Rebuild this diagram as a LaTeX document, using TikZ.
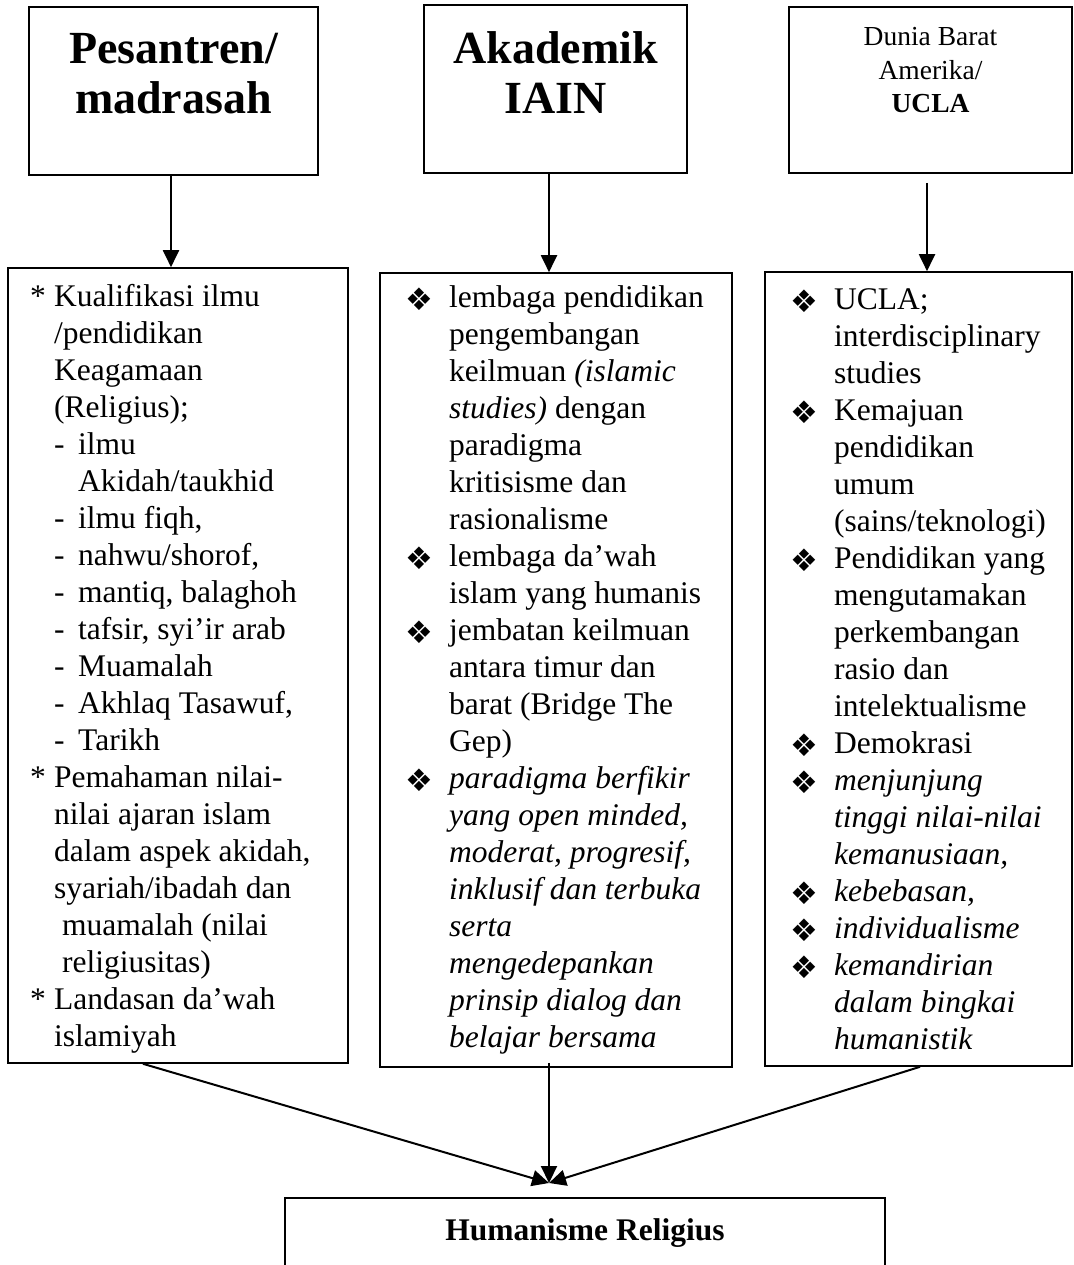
\documentclass[tikz,border=0pt]{standalone}
\usepackage{fontspec}
\setmainfont{Liberation Serif}
\newfontfamily\symfont{DejaVu Sans}
\usetikzlibrary{arrows.meta}

% bullets and indents
\newcommand{\dia}{\makebox[42pt][l]{\hspace*{-2pt}\raisebox{-3.5pt}{\symfont\fontsize{31}{31}\selectfont ❖}}}
\newcommand{\bgap}{\hspace*{42pt}}
\newcommand{\bstar}{\makebox[24pt][l]{*}}
\newcommand{\bdash}{\makebox[24pt][l]{-}}
\newcommand{\bskip}{\hspace*{24pt}}

\tikzset{
  box/.style={draw, line width=1.6pt, inner sep=0pt},
  body/.style={inner sep=0pt, anchor=base west, font=\fontsize{31.5}{37}\selectfont},
  title/.style={inner sep=0pt, anchor=base, font=\fontsize{46}{50}\selectfont\bfseries},
  arrow/.style={line width=2pt, -{Triangle[length=17pt,width=16pt]}}
}

\begin{document}
\begin{tikzpicture}[x=1pt, y=-1pt]
            % frame
            \useasboundingbox (0,0) rectangle (1073,1265);
            \clip (0,0) rectangle (1073,1265);
            % top boxes
            \node[box, minimum width=289pt, minimum height=168pt] (pesantren) at (173.5,91) {};
            \node[box, minimum width=263pt, minimum height=168pt] (akademik) at (555.5,89) {};
            \node[box, minimum width=283pt, minimum height=166pt] (barat) at (930.5,90) {};
            % top labels
            \node[title] at (173.5,64) {\begin{tabular}[t]{@{}c@{}}Pesantren/\\madrasah\end{tabular}};
            \node[title] at (555.5,64) {\begin{tabular}[t]{@{}c@{}}Akademik\\IAIN\end{tabular}};
            \node[inner sep=0pt, anchor=base, font=\fontsize{27.5}{33.5}\selectfont] at (930.5,46)
              {\begin{tabular}[t]{@{}c@{}}Dunia Barat\\Amerika/\\\textbf{UCLA}\end{tabular}};
            % middle boxes
            \node[box, minimum width=340pt, minimum height=795pt] (kiri) at (178,665.5) {};
            \node[box, minimum width=352pt, minimum height=794pt] (tengah) at (556,670) {};
            \node[box, minimum width=307pt, minimum height=794pt] (kanan) at (918.5,669) {};
            % left list
            \node[body] at (30,306) {\begin{tabular}[t]{@{}l@{}}
              \bstar Kualifikasi ilmu\\
              \bskip /pendidikan\\
              \bskip Keagamaan\\
              \bskip (Religius);\\
              \bskip\bdash ilmu\\
              \bskip\bskip Akidah/taukhid\\
              \bskip\bdash ilmu fiqh,\\
              \bskip\bdash nahwu/shorof,\\
              \bskip\bdash mantiq, balaghoh\\
              \bskip\bdash tafsir, syi’ir arab\\
              \bskip\bdash Muamalah\\
              \bskip\bdash Akhlaq Tasawuf,\\
              \bskip\bdash Tarikh\\
              \bstar Pemahaman nilai-\\
              \bskip nilai ajaran islam\\
              \bskip dalam aspek akidah,\\
              \bskip syariah/ibadah dan\\
              \bskip\hspace*{8pt}muamalah (nilai\\
              \bskip\hspace*{8pt}religiusitas)\\
              \bstar Landasan da’wah\\
              \bskip islamiyah
            \end{tabular}};
            % middle list
            \node[body] at (407,307) {\begin{tabular}[t]{@{}l@{}}
              \dia lembaga pendidikan\\
              \bgap pengembangan\\
              \bgap keilmuan \textit{(islamic}\\
              \bgap\textit{studies)} dengan\\
              \bgap paradigma\\
              \bgap kritisisme dan\\
              \bgap rasionalisme\\
              \dia lembaga da’wah\\
              \bgap islam yang humanis\\
              \dia jembatan keilmuan\\
              \bgap antara timur dan\\
              \bgap barat (Bridge The\\
              \bgap Gep)\\
              \dia\textit{paradigma berfikir}\\
              \bgap\textit{yang open minded,}\\
              \bgap\textit{moderat, progresif,}\\
              \bgap\textit{inklusif dan terbuka}\\
              \bgap\textit{serta}\\
              \bgap\textit{mengedepankan}\\
              \bgap\textit{prinsip dialog dan}\\
              \bgap\textit{belajar bersama}
            \end{tabular}};
            % right list
            \node[body] at (792,309) {\begin{tabular}[t]{@{}l@{}}
              \dia UCLA;\\
              \bgap interdisciplinary\\
              \bgap studies\\
              \dia Kemajuan\\
              \bgap pendidikan\\
              \bgap umum\\
              \bgap (sains/teknologi)\\
              \dia Pendidikan yang\\
              \bgap mengutamakan\\
              \bgap perkembangan\\
              \bgap rasio dan\\
              \bgap intelektualisme\\
              \dia Demokrasi\\
              \dia\textit{menjunjung}\\
              \bgap\textit{tinggi nilai-nilai}\\
              \bgap\textit{kemanusiaan,}\\
              \dia\textit{kebebasan,}\\
              \dia\textit{individualisme}\\
              \dia\textit{kemandirian}\\
              \bgap\textit{dalam bingkai}\\
              \bgap\textit{humanistik}
            \end{tabular}};
            % bottom box
            \node[box, minimum width=600pt, minimum height=110pt] (humanis) at (585,1253) {};
            \node[inner sep=0pt, anchor=base, font=\fontsize{31.5}{37}\selectfont\bfseries] at (585,1240) {Humanisme Religius};
            % arrows down
            \draw[arrow] ([xshift=-2.5pt]pesantren.south) -- ([xshift=-2.5pt]pesantren.south |- kiri.north);
            \draw[arrow] ([xshift=-6.5pt]akademik.south) -- ([xshift=-6.5pt]akademik.south |- tengah.north);
            \draw[arrow, shorten <=9pt] ([xshift=-3.5pt]barat.south) -- ([xshift=-3.5pt]barat.south |- kanan.north);
            % arrows meeting
            \coordinate (meet) at (549,1183);
            \draw[arrow] ([xshift=-35pt]kiri.south) -- (meet);
            \draw[arrow] ([xshift=-7pt,yshift=5pt]tengah.south) -- (meet);
            \draw[arrow] ([xshift=1.5pt]kanan.south) -- (meet);
\end{tikzpicture}
\end{document}
